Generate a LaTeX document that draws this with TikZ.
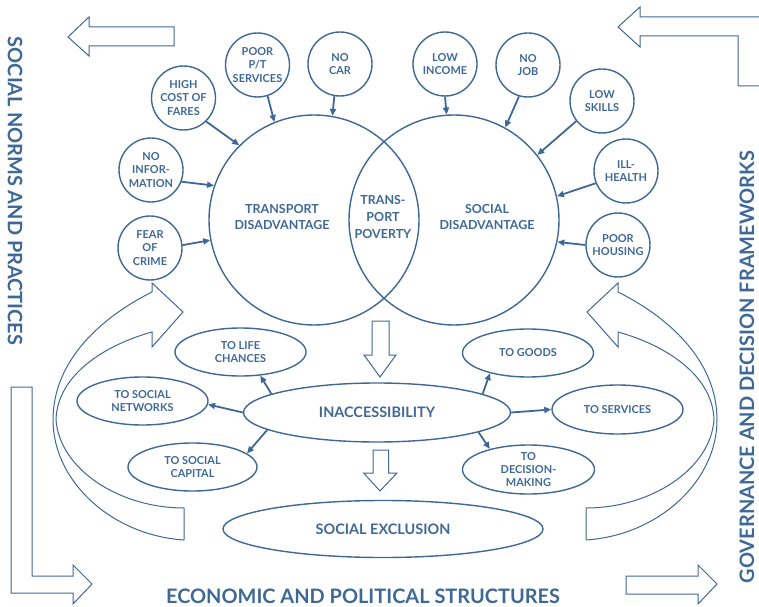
\documentclass[tikz,border=0pt]{standalone}
\usepackage{fontspec}
\setmainfont{Lato}
\usetikzlibrary{arrows.meta,shapes.geometric}
\definecolor{bl}{RGB}{62,104,150}
\begin{document}
\begin{tikzpicture}[x=1bp,y=-1bp,
  fac/.style={circle,draw=bl,line width=1.4bp,minimum size=64bp,inner sep=0pt,align=center,text=bl,font=\fontsize{11}{13.3}\selectfont\bfseries},
  big/.style={circle,draw=bl,line width=1.4bp,minimum size=210bp,inner sep=0pt},
  vlbl/.style={align=center,text=bl,inner sep=0pt,font=\fontsize{12.5}{17}\selectfont\bfseries},
  ell/.style={ellipse,draw=bl,line width=1.4bp,inner sep=0pt,align=center,text=bl,font=\fontsize{11}{13}\selectfont\bfseries},
  bigell/.style={ellipse,draw=bl,line width=1.4bp,inner sep=0pt,align=center,text=bl,font=\fontsize{14.5}{17}\selectfont\bfseries},
  con/.style={-{Triangle[length=7bp,width=6bp]},line width=1.8bp,draw=bl},
  blk/.style={draw=bl,line width=1bp,line join=miter},
  marg/.style={text=bl,inner sep=0pt,font=\fontsize{20}{24}\selectfont\bfseries}]
\useasboundingbox (0,0) rectangle (759,607);
\clip (0,0) rectangle (759,607);

% margin texts
\node[marg,rotate=-90] (mleft) at (15,191) {SOCIAL NORMS AND PRACTICES};
\node[marg,rotate=90] (mright) at (747,367) {GOVERNANCE AND DECISION FRAMEWORKS};
\node[marg] (mbottom) at (363,596) {ECONOMIC AND POLITICAL STRUCTURES};

% corner block arrows
\draw[blk] (174,27) -- (89,27) -- (89,17) -- (68,37) -- (89,56) -- (89,46) -- (174,46) -- cycle;
\draw[blk] (770,17) -- (640,17) -- (640,7) -- (618,27) -- (640,47) -- (640,36) -- (738,36) -- (738,86) -- (770,86);
\draw[blk] (11,387) -- (32,387) -- (32,576) -- (73,576) -- (73,565) -- (92,584) -- (73,604) -- (73,593) -- (11,593) -- cycle;
\draw[blk] (626,576) -- (698,576) -- (698,565) -- (717,584) -- (698,604) -- (698,594) -- (626,594) -- cycle;

% curved arrows
\draw[blk] (184,540) -- (184,508) .. controls (120,508) and (60,470) .. (56,420)
  .. controls (57,375) and (105,345) .. (152,332) -- (152,347) -- (183,312) -- (152,283) -- (152,292)
  .. controls (102,317) and (53,360) .. (53,420) .. controls (53,480) and (110,535) .. (184,540);
\draw[blk] (586,540) -- (586,508) .. controls (650,508) and (710,470) .. (714,420)
  .. controls (713,375) and (665,345) .. (618,332) -- (618,347) -- (587,312) -- (618,283) -- (618,292)
  .. controls (668,317) and (717,360) .. (717,420) .. controls (717,480) and (660,535) .. (586,540);

% Venn
\node[big] (tc) at (314,220) {};
\node[big] (rc) at (454,220) {};
\node[vlbl] (tdis) at (282,217) {TRANSPORT\\DISADVANTAGE};
\node[vlbl] (tpov) at (383,217) {TRANS-\\PORT\\POVERTY};
\node[vlbl] (sdis) at (487,217) {SOCIAL\\DISADVANTAGE};

% factor circles
\node[fac] (hc) at (183.5,98) {HIGH\\COST OF\\FARES};
\node[fac] (ni) at (151,170) {NO\\INFOR-\\MATION};
\node[fac] (fc) at (150,248) {FEAR\\OF\\CRIME};
\node[fac] (pp) at (257.5,65) {POOR\\P/T\\SERVICES};
\node[fac] (nc) at (340,64) {NO\\CAR};
\node[fac] (li) at (445,64) {LOW\\INCOME};
\node[fac] (nj) at (528,65) {NO\\JOB};
\node[fac] (ls) at (602,101) {LOW\\SKILLS};
\node[fac] (ih) at (626,171) {ILL-\\HEALTH};
\node[fac] (ph) at (618,245) {POOR\\HOUSING};

\draw[con] (hc.314) -- (tc.135);
\draw[con] (ni.339) -- (tc.161);
\draw[con] (fc.5) -- (tc.191);
\draw[con] (pp.288) -- (tc.112);
\draw[con] (nc.260) -- (tc.80);
\draw[con] (li.270) -- (rc.94);
\draw[con] (nj.254) -- (rc.61);
\draw[con] (ls.218) -- (rc.38);
\draw[con] (ih.202) -- (rc.13);
\draw[con] (ph.180) -- (rc.348);

% down arrows
\draw[blk] (372,321) -- (389,321) -- (389,355) -- (396,355) -- (380,377) -- (364,355) -- (372,355) -- cycle;
\draw[blk] (373,450) -- (388.6,450) -- (388.6,473) -- (397,473) -- (380,491) -- (363.6,473) -- (373,473) -- cycle;

% ellipses
\node[bigell,minimum width=267bp,minimum height=59bp] (ia) at (377,412.5) {INACCESSIBILITY};
\node[bigell,minimum width=320bp,minimum height=57bp] (se) at (383,529) {SOCIAL EXCLUSION};
\node[ell,minimum width=131bp,minimum height=48bp] (lc) at (240.5,352) {TO LIFE\\CHANCES};
\node[ell,minimum width=131bp,minimum height=48bp] (sn) at (142.5,401) {TO SOCIAL\\NETWORKS};
\node[ell,minimum width=129bp,minimum height=48bp] (sc) at (192.5,467) {TO SOCIAL\\CAPITAL};
\node[ell,minimum width=131bp,minimum height=48bp] (gd) at (528,353) {TO GOODS};
\node[ell,minimum width=131bp,minimum height=49bp] (sv) at (617.5,409.5) {TO SERVICES};
\node[ell,minimum width=132bp,minimum height=49bp] (dm) at (528.5,469.5) {TO\\DECISION-\\MAKING};

\draw[con] (ia.170) -- (lc.310);
\draw[con] (ia.180) -- (sn.357);
\draw[con] (ia.189) -- (sc.14);
\draw[con] (ia.10) -- (gd.208);
\draw[con] (ia.0) -- (sv.180);
\draw[con] (ia.349) -- (dm.152);
\end{tikzpicture}
\end{document}
